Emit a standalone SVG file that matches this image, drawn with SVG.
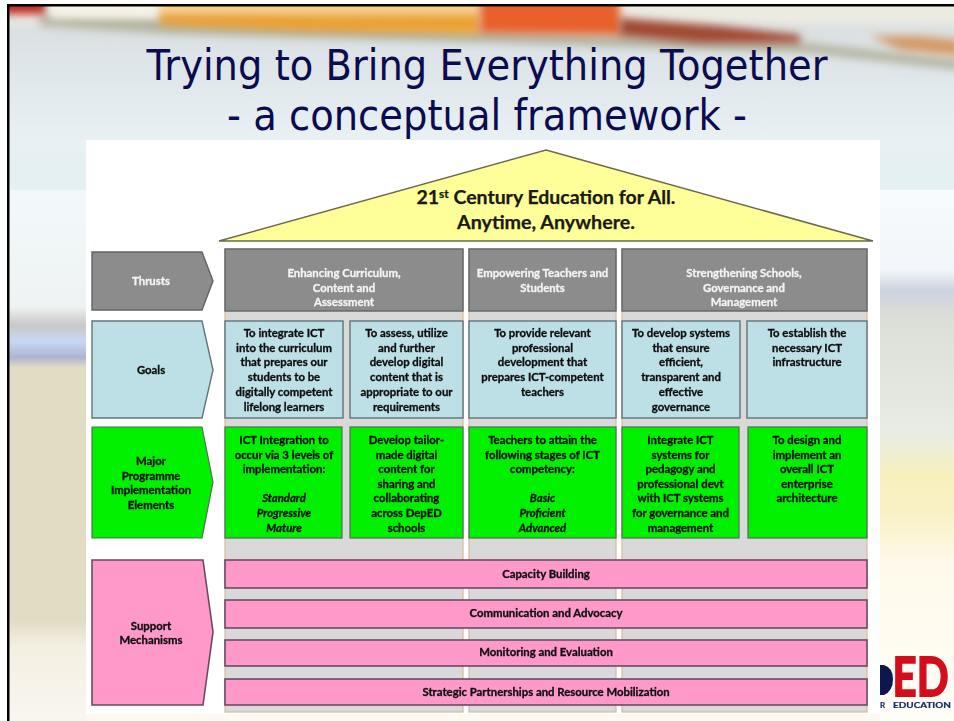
<svg xmlns="http://www.w3.org/2000/svg" width="954" height="721" viewBox="0 0 954 721">
<defs>
<filter id="b3" x="-30%" y="-100%" width="160%" height="300%"><feGaussianBlur stdDeviation="4"/></filter>
<filter id="soft" x="-2%" y="-2%" width="104%" height="104%"><feGaussianBlur stdDeviation="0.45"/></filter>
<linearGradient id="sky" x1="0" y1="0" x2="0" y2="1"><stop offset="0" stop-color="#d8dcdc"/><stop offset="0.35" stop-color="#dfe6ea"/><stop offset="0.7" stop-color="#e8f0f4"/><stop offset="1" stop-color="#e4f0f2"/></linearGradient>
<linearGradient id="leftBg" x1="0" y1="0" x2="0" y2="1">
<stop offset="0" stop-color="#f3f9fb"/><stop offset="0.22" stop-color="#eef2f2"/><stop offset="0.255" stop-color="#c8c8c6"/><stop offset="0.285" stop-color="#c8d8f4"/><stop offset="0.315" stop-color="#aeb4d0"/><stop offset="0.335" stop-color="#e2dcc4"/><stop offset="0.81" stop-color="#e2dcc4"/><stop offset="0.86" stop-color="#f4efe2"/><stop offset="1" stop-color="#f9f6f0"/>
</linearGradient>
<linearGradient id="rightBg" x1="0" y1="0" x2="0" y2="1">
<stop offset="0" stop-color="#f7fbfd"/><stop offset="0.15" stop-color="#f2f6fa"/><stop offset="0.19" stop-color="#cdd2e0"/><stop offset="0.24" stop-color="#dcdfd8"/><stop offset="0.46" stop-color="#e8ece4"/><stop offset="0.54" stop-color="#f8f0bc"/><stop offset="0.62" stop-color="#faf2c8"/><stop offset="0.7" stop-color="#fef9ea"/><stop offset="1" stop-color="#fffdf8"/>
</linearGradient>
<clipPath id="topClip"><rect x="8" y="6" width="946" height="184"/></clipPath>
<style>
text{font-family:"Lato","Liberation Sans",sans-serif}
.title{font-family:"DejaVu Sans","Liberation Sans",sans-serif;font-size:42px;fill:#0b0b50;text-anchor:middle}
.t{font-size:11.35px;font-weight:700;fill:#0c0c0c;stroke:#0c0c0c;stroke-width:0.3;text-anchor:middle}
.w{fill:#f4f4f4;stroke:#f4f4f4}
.i{font-style:italic}
.h{font-size:18px;font-weight:700;fill:#1a1a10;stroke:#1a1a10;stroke-width:0.25;text-anchor:middle}
.gr{fill:#8c8c8c;stroke:#5f6468;stroke-width:1.4}
.bl{fill:#bce0e6;stroke:#5f7478;stroke-width:1.4}
.gn{fill:#00f000;stroke:#4f7050;stroke-width:1.2}
.pk{fill:#ff99c9;stroke:#6c4a60;stroke-width:1.6}
.col{fill:#d9d9d9;stroke:#d8b898;stroke-width:1.2}
.lg{font-size:8px;font-weight:700;fill:#1a2a6a;stroke:#1a2a6a;stroke-width:0.2}
</style>
</defs>
<rect width="954" height="721" fill="#ffffff"/>
<g id="background">
<rect x="8" y="6" width="946" height="184" fill="url(#sky)"/>
<g clip-path="url(#topClip)">
<rect x="-20" y="-20" width="1000" height="44" fill="#ecebe2" filter="url(#b3)"/>
<polygon points="40,14 170,16 470,30 800,42 960,60 960,70 800,52 470,42 170,34 40,26" fill="#b4b4a0" filter="url(#b3)"/>
<rect x="-10" y="-10" width="56" height="24" fill="#bc2a22" filter="url(#b3)"/>
<rect x="50" y="-10" width="110" height="28" fill="#f6f2e6" filter="url(#b3)"/>
<rect x="160" y="-10" width="320" height="26" fill="#fad090" filter="url(#b3)"/>
<polygon points="160,14 480,14 480,34 300,31 160,25" fill="#eca030" filter="url(#b3)"/>
<polygon points="480,-10 618,-10 622,35 480,33" fill="#e8602a" filter="url(#b3)"/>
<polygon points="620,18 720,26 800,35 800,43 700,43 620,36" fill="#a04830" filter="url(#b3)"/>
<polygon points="870,36 920,36 960,40 960,56 900,50" fill="#d49a68" filter="url(#b3)"/>
</g>
<rect x="8" y="190" width="78" height="531" fill="url(#leftBg)"/>
<rect x="880" y="190" width="74" height="531" fill="url(#rightBg)"/>
<rect x="86" y="700" width="794" height="21" fill="#fdf8f2"/>
<rect x="7" y="4" width="947" height="2.500" fill="#000000"/>
<rect x="7" y="4" width="2.500" height="717" fill="#000000"/>
</g>
<g id="title">
<text class="title" x="487" y="80" textLength="681" lengthAdjust="spacingAndGlyphs">Trying to Bring Everything Together</text>
<text class="title" x="487" y="130" textLength="520" lengthAdjust="spacingAndGlyphs">- a conceptual framework -</text>
</g>
<rect id="panel" x="86" y="140" width="794" height="574" fill="#ffffff"/>
<g id="columns">
<rect class="col" x="225" y="249" width="238" height="463"/>
<rect class="col" x="469" y="249" width="147" height="463"/>
<rect class="col" x="622" y="249" width="245" height="463"/>
</g>
<g id="roof"><polygon points="546,150 873,241 219,241" fill="#ffff99" stroke="#6a6a50" stroke-width="1.5"/>
<text class="h" x="546" y="204" textLength="259" lengthAdjust="spacingAndGlyphs">21<tspan font-size="11" dy="-6">st</tspan><tspan dy="6"> Century Education for All.</tspan></text>
<text class="h" x="546" y="229" textLength="178" lengthAdjust="spacingAndGlyphs">Anytime, Anywhere.</text></g>
<g filter="url(#soft)">
<g id="row-thrusts">
<polygon class="gr" points="92,252 202,252 213,281 202,310 92,310"/>
<text class="t w" x="151" y="285">Thrusts</text>
<rect class="gr" x="225" y="249" width="238" height="62"/>
<text class="t w" x="344" y="277">Enhancing Curriculum,</text><text class="t w" x="344" y="291.5">Content and</text><text class="t w" x="344" y="306">Assessment</text>
<rect class="gr" x="469" y="249" width="147" height="62"/>
<text class="t w" x="542.5" y="277">Empowering Teachers and</text><text class="t w" x="542.5" y="291.5">Students</text>
<rect class="gr" x="622" y="249" width="245" height="62"/>
<text class="t w" x="744" y="277">Strengthening Schools,</text><text class="t w" x="744" y="291.5">Governance and</text><text class="t w" x="744" y="306">Management</text>
</g>
<g id="row-goals">
<polygon class="bl" points="92,321 202,321 213,370 202,418 92,418"/>
<text class="t" x="151" y="374">Goals</text>
<rect class="bl" x="225" y="321" width="118" height="97"/>
<text class="t" x="284" y="337">To integrate ICT</text><text class="t" x="284" y="351.7">into the curriculum</text><text class="t" x="284" y="366.4">that prepares our</text><text class="t" x="284" y="381.1">students to be</text><text class="t" x="284" y="395.8">digitally competent</text><text class="t" x="284" y="410.5">lifelong learners</text>
<rect class="bl" x="350" y="321" width="113" height="97"/>
<text class="t" x="406.500" y="337">To assess, utilize</text><text class="t" x="406.500" y="351.7">and further</text><text class="t" x="406.500" y="366.4">develop digital</text><text class="t" x="406.500" y="381.1">content that is</text><text class="t" x="406.500" y="395.8">appropriate to our</text><text class="t" x="406.500" y="410.5">requirements</text>
<rect class="bl" x="469" y="321" width="147" height="97"/>
<text class="t" x="542.500" y="337">To provide relevant</text><text class="t" x="542.500" y="351.7">professional</text><text class="t" x="542.500" y="366.4">development that</text><text class="t" x="542.500" y="381.1">prepares ICT-competent</text><text class="t" x="542.500" y="395.8">teachers</text>
<rect class="bl" x="622" y="321" width="118" height="97"/>
<text class="t" x="681" y="337">To develop systems</text><text class="t" x="681" y="351.7">that ensure</text><text class="t" x="681" y="366.4">efficient,</text><text class="t" x="681" y="381.1">transparent and</text><text class="t" x="681" y="395.8">effective</text><text class="t" x="681" y="410.5">governance</text>
<rect class="bl" x="747" y="321" width="120" height="97"/>
<text class="t" x="807" y="337">To establish the</text><text class="t" x="807" y="351.7">necessary ICT</text><text class="t" x="807" y="366.4">infrastructure</text>
</g>
<g id="row-elements">
<polygon class="gn" points="92,427 202,427 213,482 202,538 92,538"/>
<text class="t" x="151" y="465">Major</text><text class="t" x="151" y="480">Programme</text><text class="t" x="151" y="494">Implementation</text><text class="t" x="151" y="509">Elements</text>
<rect class="gn" x="225" y="427" width="117" height="111"/>
<text class="t" x="284" y="444">ICT Integration to</text><text class="t" x="284" y="458.6">occur via 3 levels of</text><text class="t" x="284" y="473.2">implementation:</text><text class="t i" x="284" y="502.400">Standard</text><text class="t i" x="284" y="517">Progressive</text><text class="t i" x="284" y="531.6">Mature</text>
<rect class="gn" x="350" y="427" width="113" height="111"/>
<text class="t" x="406.500" y="444">Develop tailor-</text><text class="t" x="406.500" y="458.6">made digital</text><text class="t" x="406.500" y="473.2">content for</text><text class="t" x="406.500" y="487.8">sharing and</text><text class="t" x="406.500" y="502.400">collaborating</text><text class="t" x="406.500" y="517">across DepED</text><text class="t" x="406.500" y="531.6">schools</text>
<rect class="gn" x="469" y="427" width="147" height="111"/>
<text class="t" x="542.500" y="444">Teachers to attain the</text><text class="t" x="542.500" y="458.6">following stages of ICT</text><text class="t" x="542.500" y="473.2">competency:</text><text class="t i" x="542.500" y="502.400">Basic</text><text class="t i" x="542.500" y="517">Proficient</text><text class="t i" x="542.500" y="531.6">Advanced</text>
<rect class="gn" x="622" y="427" width="117" height="111"/>
<text class="t" x="680.500" y="444">Integrate ICT</text><text class="t" x="680.500" y="458.6">systems for</text><text class="t" x="680.500" y="473.2">pedagogy and</text><text class="t" x="680.500" y="487.8">professional devt</text><text class="t" x="680.500" y="502.400">with ICT systems</text><text class="t" x="680.500" y="517">for governance and</text><text class="t" x="680.500" y="531.6">management</text>
<rect class="gn" x="748" y="427" width="119" height="111"/>
<text class="t" x="807" y="444">To design and</text><text class="t" x="807" y="458.6">implement an</text><text class="t" x="807" y="473.2">overall ICT</text><text class="t" x="807" y="487.8">enterprise</text><text class="t" x="807" y="502.400">architecture</text>
</g>
<g id="row-support">
<polygon class="pk" points="92,560 203,560 213,632 203,705 92,705"/>
<text class="t" x="151" y="630">Support</text><text class="t" x="151" y="644">Mechanisms</text>
<rect class="pk" x="225" y="560" width="642" height="28"/><text class="t" x="546" y="578">Capacity Building</text>
<rect class="pk" x="225" y="600" width="642" height="28"/><text class="t" x="546" y="617">Communication and Advocacy</text>
<rect class="pk" x="225" y="640" width="642" height="26"/><text class="t" x="546" y="656">Monitoring and Evaluation</text>
<rect class="pk" x="225" y="679" width="642" height="26"/><text class="t" x="546" y="696">Strategic Partnerships and Resource Mobilization</text>
</g>
</g>
<g id="logo" filter="url(#soft)">
<path d="M880,665 L884,665 Q893,668 893,679 Q893,691 884,695 L880,695 Z" fill="#0c1550"/>
<text transform="translate(892.500,696) scale(1,1.26)" font-family="Liberation Sans" font-size="42" font-weight="700" fill="#d40a1e" stroke="#d40a1e" stroke-width="1.400">ED</text>
<text class="lg" x="880" y="708">R</text>
<text class="lg" x="893" y="708" textLength="58" lengthAdjust="spacingAndGlyphs">EDUCATION</text>
</g>
</svg>
